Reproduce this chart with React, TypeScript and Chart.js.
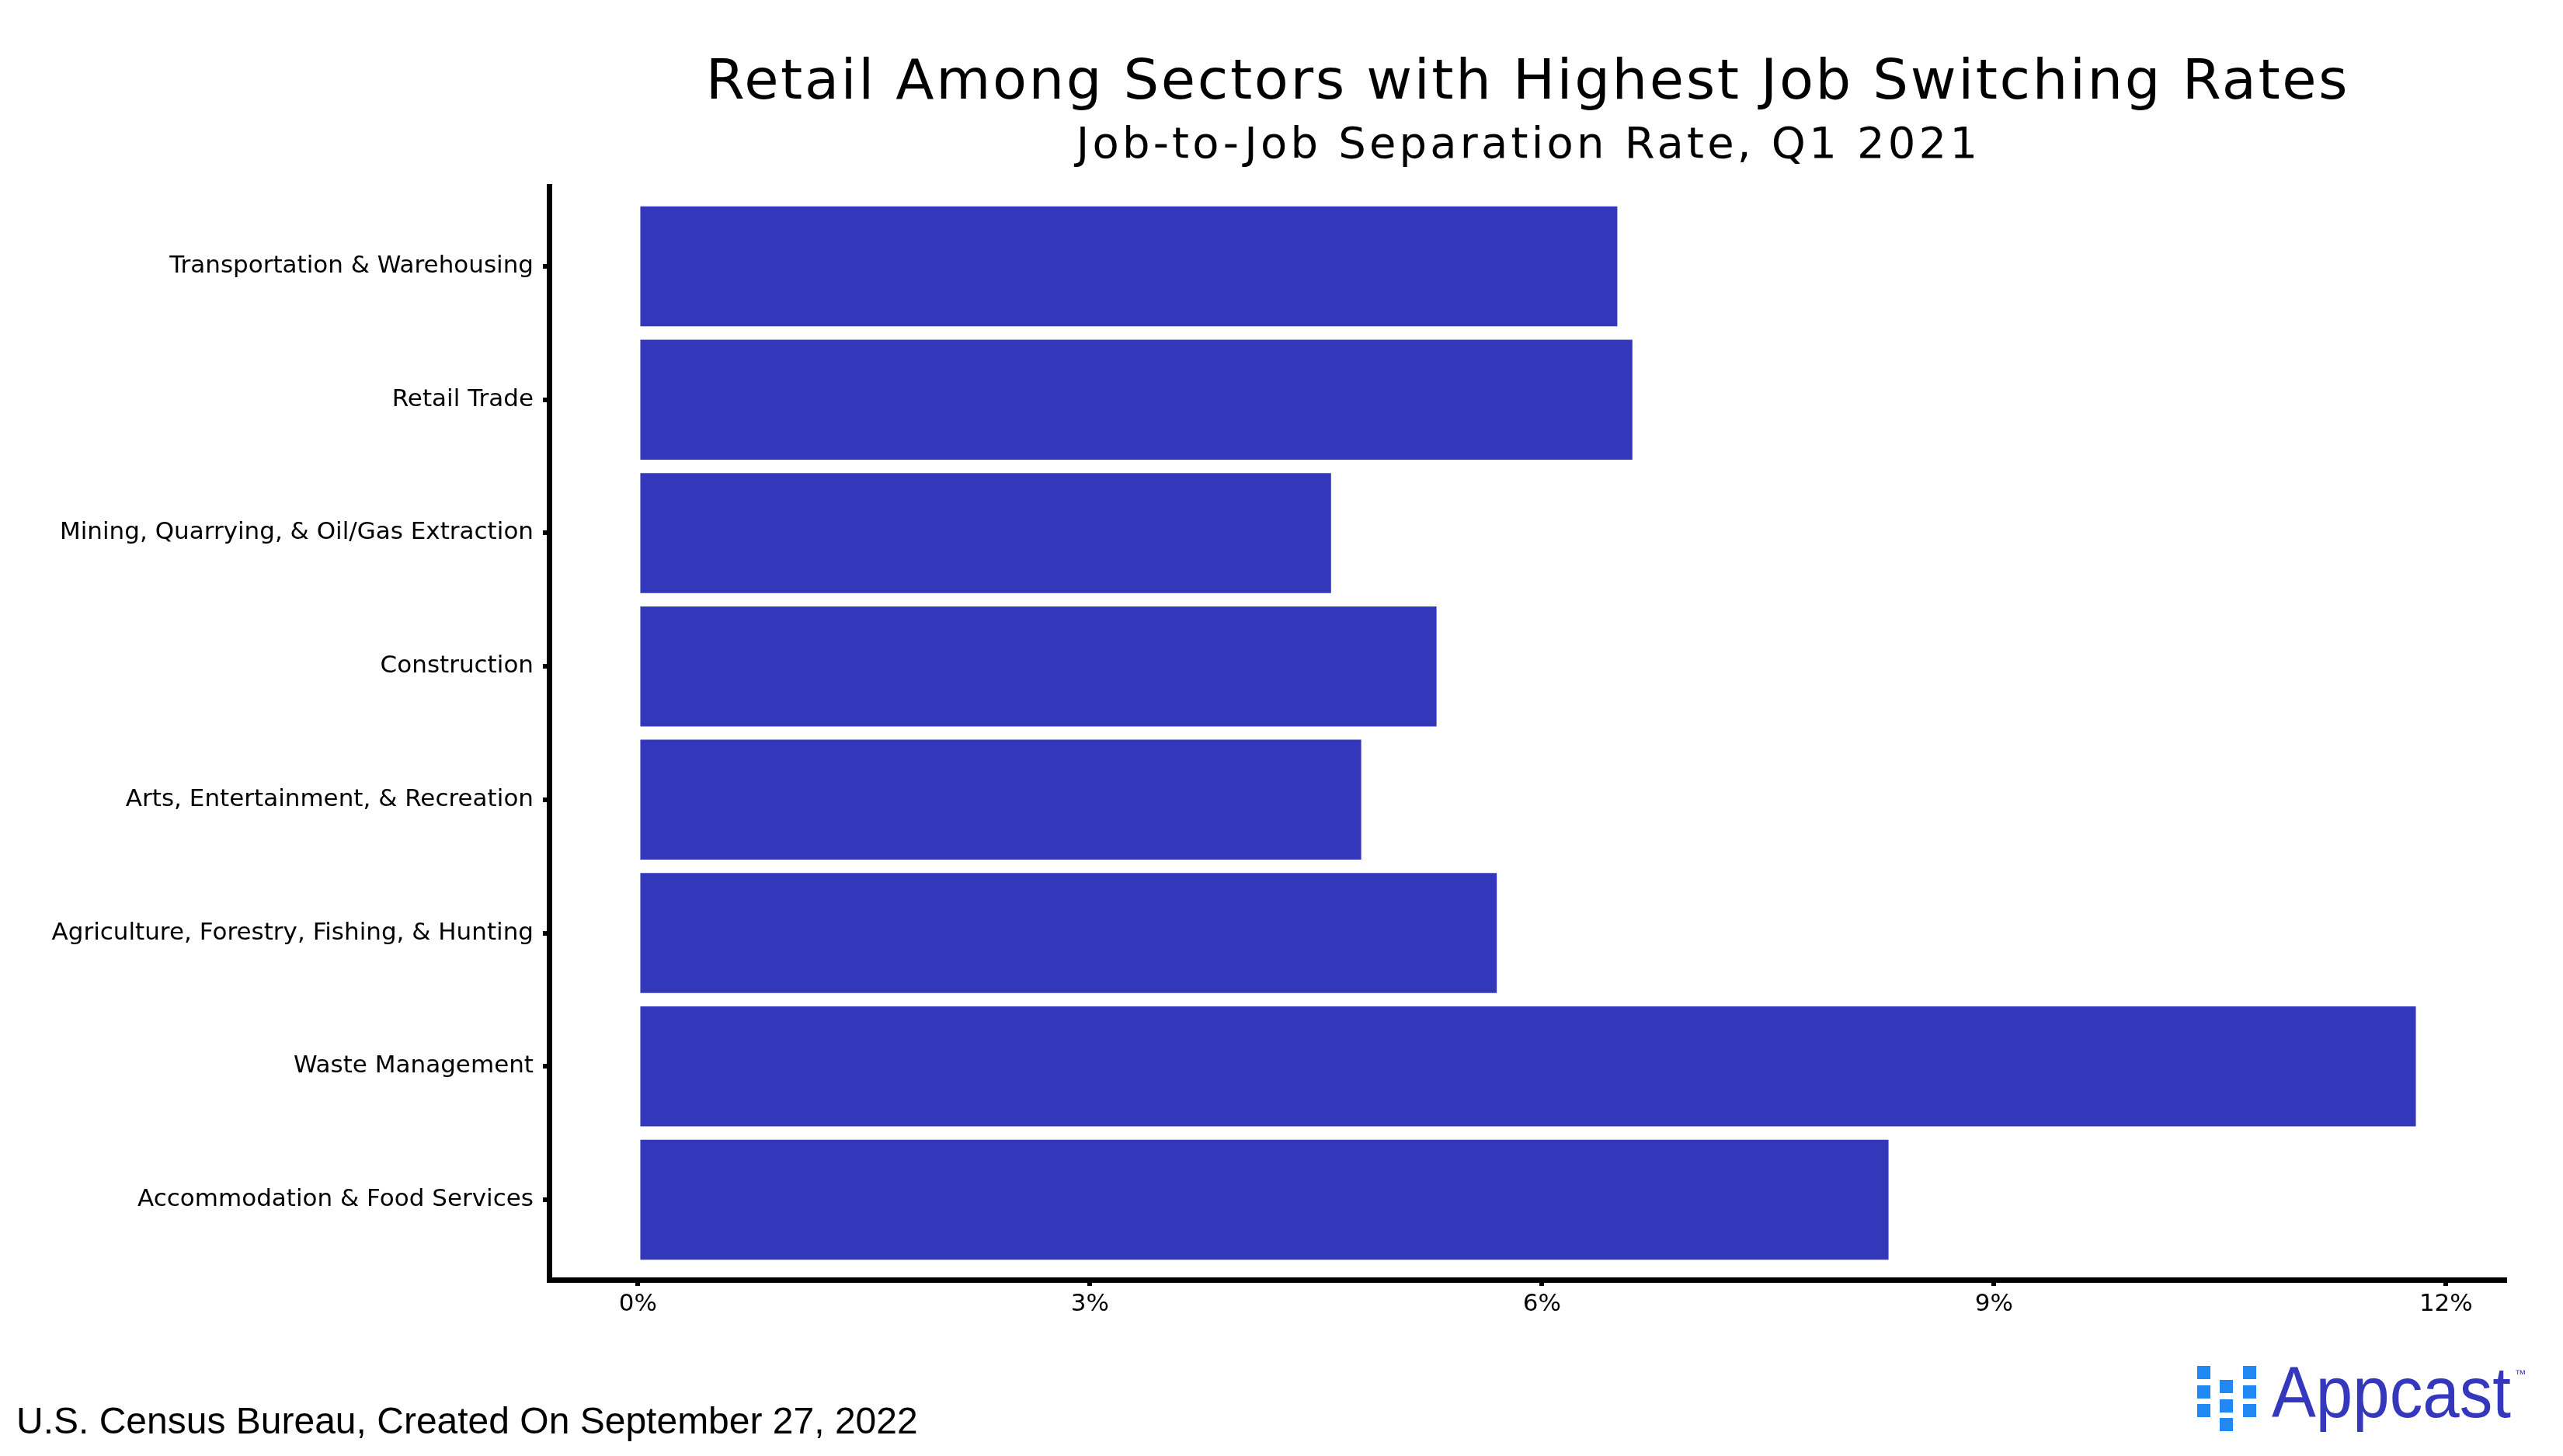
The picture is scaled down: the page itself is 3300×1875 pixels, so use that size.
import React, { useEffect, useRef } from 'react';
import { Chart, registerables } from 'chart.js';

Chart.register(...registerables);

const categories = [
  'Transportation & Warehousing',
  'Retail Trade',
  'Mining, Quarrying, & Oil/Gas Extraction',
  'Construction',
  'Arts, Entertainment, & Recreation',
  'Agriculture, Forestry, Fishing, & Hunting',
  'Waste Management',
  'Accommodation & Food Services',
];
const separationRates = [6.5, 6.6, 4.6, 5.3, 4.8, 5.7, 11.8, 8.3];
const xTickValues = [0, 3, 6, 9, 12];
const xTickLabels = ['0%', '3%', '6%', '9%', '12%'];

const titleText = 'Retail Among Sectors with Highest Job Switching Rates';
const subtitleText = 'Job-to-Job Separation Rate, Q1 2021';
const captionText = 'U.S. Census Bureau, Created On September 27, 2022';
const logoText = 'Appcast';

const W = 3300;
const H = 1875;
const BAR_COLOR = '#3338bb';
const LOGO_BLUE = '#2187f2';
const LOGO_TEXT = '#3538bd';

const decorPlugin = {
  id: 'decor',
  afterDraw(chart: any) {
    const { ctx, chartArea } = chart;
    const cx = (chartArea.left + chartArea.right) / 2;
    ctx.save();
    ctx.fillStyle = '#000';
    ctx.textBaseline = 'alphabetic';
    ctx.textAlign = 'center';
    // Title
    ctx.font = '72px "DejaVu Sans"';
    (ctx as any).letterSpacing = '2.6px';
    ctx.fillText(titleText, cx + 1, 127);
    // Subtitle
    ctx.font = '56px "DejaVu Sans"';
    (ctx as any).letterSpacing = '4.2px';
    ctx.fillText(subtitleText, cx + 2, 203);
    (ctx as any).letterSpacing = '0px';
    // Caption
    ctx.textAlign = 'left';
    ctx.font = '48px "Liberation Sans", Arial, sans-serif';
    ctx.fillText(captionText, 21, 1846);
    // Logo squares
    ctx.fillStyle = LOGO_BLUE;
    const sq = 17;
    const colX = [W - 471, W - 442, W - 412];
    const rowsOuter = [1759, 1784, 1808];
    const rowsInner = [1777, 1802, 1826];
    rowsOuter.forEach((y) => {
      ctx.fillRect(colX[0], y, sq, sq);
      ctx.fillRect(colX[2], y, sq, sq);
    });
    rowsInner.forEach((y) => ctx.fillRect(colX[1], y, sq, sq));
    // Logo text
    ctx.fillStyle = LOGO_TEXT;
    ctx.font = '92px "Liberation Sans", Arial, sans-serif';
    const tw = ctx.measureText(logoText).width;
    const sx = 308 / tw;
    ctx.save();
    ctx.translate(W - 375, 1825);
    ctx.scale(sx, 1);
    ctx.fillText(logoText, 0, 0);
    ctx.restore();
    ctx.font = '14px "Liberation Sans", Arial, sans-serif';
    ctx.fillText('™', W - 62, 1774);
    ctx.restore();
  },
};

export default function App() {
  const canvasRef = useRef<HTMLCanvasElement | null>(null);

  useEffect(() => {
    document.body.style.margin = '0';
    const canvas = canvasRef.current;
    if (!canvas) return;
    const maxVal = Math.max(...separationRates);
    const xPad = maxVal * 0.05;
    const chart = new Chart(canvas, {
      type: 'bar',
      data: {
        datasets: [
          {
            label: 'Job-to-Job Separation Rate',
            data: separationRates.map((v, i) => ({ x: v, y: i })),
            backgroundColor: BAR_COLOR,
            borderWidth: 0,
            barPercentage: 0.9,
            categoryPercentage: 1.0,
          },
        ],
      },
      options: {
        indexAxis: 'y',
        animation: false,
        responsive: false,
        devicePixelRatio: 1,
        layout: { padding: { top: 240, right: 75, bottom: 0, left: 0 } },
        plugins: {
          legend: { display: false },
          tooltip: { enabled: false },
          title: { display: false },
        },
        scales: {
          x: {
            type: 'linear',
            min: -xPad,
            max: maxVal + xPad,
            bounds: 'data',
            offset: false,
            afterBuildTicks: (s: any) => {
              s.ticks = xTickValues.map((v) => ({ value: v }));
            },
            afterFit: (s: any) => {
              s.height = 227;
            },
            grid: {
              display: true,
              offset: false,
              drawOnChartArea: false,
              drawTicks: true,
              tickLength: 8,
              tickWidth: 6,
              tickColor: '#000',
              color: '#000',
              lineWidth: 6,
            },
            border: { display: true, color: '#000', width: 7 },
            ticks: {
              padding: 5,
              color: '#000',
              autoSkip: false,
              maxRotation: 0,
              font: { family: 'DejaVu Sans', size: 31 },
              callback: (v: any) => {
                const idx = xTickValues.indexOf(Number(v));
                return idx >= 0 ? xTickLabels[idx] : '';
              },
            },
          },
          y: {
            type: 'linear',
            min: -0.6,
            max: categories.length - 1 + 0.6,
            bounds: 'data',
            reverse: true,
            offset: false,
            afterBuildTicks: (s: any) => {
              s.ticks = categories.map((_, i) => ({ value: i }));
            },
            afterFit: (s: any) => {
              s.width = 707;
            },
            grid: {
              display: true,
              offset: false,
              drawOnChartArea: false,
              drawTicks: true,
              tickLength: 8,
              tickWidth: 6,
              tickColor: '#000',
              color: '#000',
              lineWidth: 6,
            },
            border: { display: true, color: '#000', width: 7 },
            ticks: {
              padding: 12,
              color: '#000',
              autoSkip: false,
              font: { family: 'DejaVu Sans', size: 31 },
              callback: (v: any) => categories[Math.round(Number(v))] ?? '',
            },
          },
        },
      },
      plugins: [decorPlugin],
    } as any);
    return () => chart.destroy();
  }, []);

  return (
    <div style={{ width: W, height: H, background: '#fff' }}>
      <canvas
        ref={canvasRef}
        width={W}
        height={H}
        style={{ display: 'block', width: W, height: H }}
      />
    </div>
  );
}
